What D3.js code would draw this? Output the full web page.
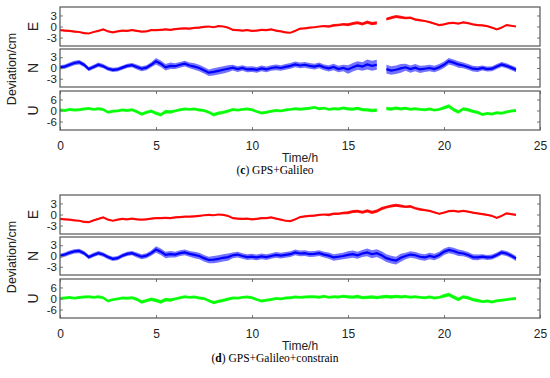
<!DOCTYPE html>
<html>
<head>
<meta charset="utf-8">
<script src="https://cdn.jsdelivr.net/npm/d3@7"></script>
<style>
  body { margin: 0; background: #fff; }
  svg { display: block; }
  .tick text { font-family: "Liberation Sans", Arial, sans-serif; fill: #222; }
</style>
</head>
<body>
<div id="chart"></div>
<script>
// sample every 0.25 h, 0 .. 23.75 h
const hours = d3.range(0, 24, 0.25);

const xTicks = [0, 5, 10, 15, 20, 25];
const enTicks = [-3, 0, 3];
const uTicks = [-6, 0, 6];

// (c) GPS+Galileo
const eC = [
  -1.0, -1.1, -1.2, -1.4, -1.5, -1.8, -1.9, -1.5, -1.2, -0.8, -1.3, -1.6,
  -1.3, -1.1, -1.2, -1.0, -1.2, -1.4, -1.3, -1.0, -1.0, -0.9, -0.8, -0.9,
  -0.7, -0.6, -0.5, -0.6, -0.4, -0.3, -0.1, 0.0, -0.2, 0.1, 0.0, -0.3,
  -0.9, -1.0, -1.1, -1.0, -1.2, -1.1, -0.9, -1.0, -0.8, -1.1, -1.3, -1.6,
  -1.7, -1.2, -0.6, -0.5, -0.3, -0.2, 0.0, 0.1, 0.0, 0.3, 0.4, 0.6,
  0.5, 0.8, 1.0, 0.7, 1.2, 0.8, 1.0, null, 2.0, 2.4, 2.7, 2.5,
  2.3, 2.4, 1.9, 1.7, 1.5, 1.2, 0.8, 0.4, 0.6, 0.9, 1.0, 0.8,
  1.1, 0.9, 0.6, 0.4, 0.3, 0.1, -0.3, -0.8, -0.3, 0.4, 0.2, 0.0
];
const nC = [
  0.2, 0.4, 0.9, 1.4, 1.6, 0.9, -0.3, 0.3, 0.9, 0.5, -0.2, -0.5,
  -0.4, 0.1, 0.6, 0.8, 0.3, -0.2, 0.1, 0.9, 1.9, 1.2, 0.2, 0.6,
  0.5, 0.9, 1.2, 0.7, 0.4, 0.0, -0.6, -1.3, -1.1, -0.8, -0.5, -0.2,
  0.1, -0.3, 0.0, -0.4, -0.3, -0.5, -0.1, -0.4, 0.0, 0.2, 0.0, 0.3,
  0.6, 1.0, 0.7, 0.9, 0.6, 0.4, 0.7, 0.2, -0.1, 0.3, -0.3, 0.0,
  -0.4, 0.2, 0.7, 0.4, 1.0, 0.6, 0.9, null, -0.3, -0.7, -0.5, -0.1,
  0.2, -0.3, 0.1, -0.4, -0.2, 0.0, -0.3, 0.2, 0.9, 1.9, 1.5, 1.0,
  0.7, 0.3, -0.2, -0.3, 0.0, -0.3, -0.2, 0.4, 1.0, 0.6, 0.1, -0.5
];
const uC = [
  0.3, 0.0, 0.5, 0.3, 0.4, 0.8, 1.1, 0.6, 1.0, 0.5, -1.0, -0.4,
  -0.2, 0.3, 0.0, 0.4, -0.6, -2.0, -1.0, -0.3, -1.5, -2.3, -0.6, -0.8,
  -0.2, 0.4, 0.8, 0.6, 0.8, 0.3, 0.0, -1.0, -2.3, -1.5, -1.0, -0.3,
  0.5, 0.2, 0.6, 0.8, 0.4, -0.6, -1.4, -1.0, -0.4, 0.0, -0.2, 0.3,
  0.6, 1.0, 0.7, 0.9, 1.2, 1.7, 0.9, 1.3, 0.6, 1.0, 0.8, 1.4,
  0.9, 0.7, 1.2, 0.5, 0.3, 0.0, 0.2, null, 1.1, 0.8, 1.3, 0.9,
  1.2, 0.7, 1.0, 0.6, 0.4, 0.8, 0.2, 0.6, 1.5, 2.4, 0.5, -0.8,
  0.9, 0.4, -0.5, -1.0, -2.2, -1.6, -1.9, -1.2, -1.5, -0.8, -0.3, 0.0
];

// (d) GPS+Galileo+constrain
const eD = [
  -1.2, -1.3, -1.4, -1.6, -1.7, -2.0, -2.1, -1.6, -1.2, -0.8, -1.4, -1.7,
  -1.4, -1.2, -1.3, -1.1, -1.3, -1.4, -1.3, -1.1, -1.0, -1.0, -0.9, -1.0,
  -0.8, -0.7, -0.6, -0.6, -0.5, -0.4, -0.2, -0.1, -0.2, 0.0, -0.1, -0.4,
  -1.0, -1.1, -1.2, -1.1, -1.3, -1.2, -1.0, -1.0, -0.8, -1.1, -1.4, -1.7,
  -1.8, -1.3, -0.7, -0.5, -0.4, -0.3, -0.1, 0.0, -0.1, 0.2, 0.2, 0.4,
  0.5, 0.8, 0.9, 0.6, 1.0, 0.6, 0.9, 1.6, 2.0, 2.3, 2.5, 2.3,
  2.1, 2.2, 1.7, 1.4, 1.2, 1.0, 0.6, 0.2, 0.5, 0.9, 1.0, 0.8,
  1.0, 0.8, 0.5, 0.3, 0.1, -0.1, -0.4, -0.9, -0.4, 0.3, 0.1, -0.1
];
const nD = [
  0.0, 0.4, 0.9, 1.3, 1.4, 0.8, -0.3, 0.3, 0.8, 0.4, -0.3, -0.8,
  -0.6, 0.1, 0.6, 0.8, 0.3, -0.2, 0.1, 0.8, 1.8, 1.2, 0.3, 0.5,
  0.4, 0.8, 1.0, 0.6, 0.3, 0.0, -0.6, -1.1, -1.0, -0.8, -0.5, -0.3,
  0.2, 0.4, 0.0, -0.3, -0.2, -0.4, -0.1, -0.3, 0.0, 0.3, 0.1, 0.3,
  0.5, 1.0, 0.7, 0.8, 0.5, 0.6, 0.8, 0.4, 0.1, -0.4, -0.2, 0.0,
  0.3, 0.5, 0.2, 0.7, 1.0, 0.5, 0.8, 0.2, -0.6, -1.0, -1.3, -0.5,
  0.0, 0.4, 0.2, -0.2, -0.4, 0.0, -0.3, 0.3, 1.2, 1.7, 1.4, 0.9,
  0.7, 0.3, -0.3, -0.4, -0.2, -0.4, -0.3, 0.3, 1.0, 0.7, 0.1, -0.7
];
const uD = [
  0.0, 0.3, 0.5, 0.2, 0.5, 0.8, 1.0, 0.6, 0.9, 0.4, -1.4, -0.6,
  -0.2, 0.3, 0.1, 0.4, -0.4, -1.9, -1.2, -0.4, -1.0, -1.8, -0.6, -0.8,
  -0.2, 0.4, 0.9, 0.6, 0.8, 0.3, 0.0, -1.2, -2.2, -1.6, -1.0, -0.3,
  0.3, 0.2, 0.6, 0.8, 0.4, -0.6, -1.4, -1.0, -0.5, 0.0, -0.2, 0.3,
  0.4, 0.8, 0.6, 0.8, 1.0, 0.9, 0.7, 1.2, 0.6, 1.0, 0.8, 1.2,
  0.9, 0.7, 1.1, 0.5, 0.6, 0.8, 0.5, 0.9, 1.1, 0.8, 1.2, 0.9,
  1.1, 0.7, 1.0, 0.6, 0.4, 0.8, 0.3, 0.6, 1.4, 2.1, 0.7, -0.5,
  0.9, 0.4, -0.6, -1.1, -1.7, -1.4, -1.9, -1.2, -1.0, -0.6, -0.2, 0.0
];

// half-width of the noise band per hour (cm)
const eSpread = [0.3, 0.3, 0.3, 0.3, 0.3, 0.3, 0.3, 0.3, 0.3, 0.3, 0.3, 0.3,
  0.3, 0.3, 0.35, 0.4, 0.45, 0.4, 0.35, 0.3, 0.3, 0.3, 0.3, 0.3];
const nSpreadC = [0.6, 0.6, 0.6, 0.6, 0.7, 0.9, 0.8, 0.9, 1.0, 0.8, 0.8, 0.8,
  0.8, 0.8, 0.9, 1.2, 1.4, 1.2, 1.0, 0.9, 0.9, 0.8, 0.7, 0.7];
const nSpreadD = [0.6, 0.6, 0.6, 0.6, 0.7, 0.9, 0.8, 0.9, 1.0, 0.8, 0.8, 0.8,
  0.8, 0.8, 0.9, 1.0, 1.1, 1.1, 0.9, 0.9, 0.9, 0.8, 0.7, 0.7];
const uSpread = [0.8, 0.8, 0.8, 0.8, 0.9, 1.0, 0.8, 0.8, 0.9, 0.8, 0.8, 0.8,
  0.8, 0.8, 0.8, 0.9, 0.9, 0.9, 0.8, 0.8, 1.0, 0.9, 0.8, 0.8];

const width = 550, height = 378;

const svg = d3.select("#chart").append("svg")
  .attr("width", width)
  .attr("height", height);

const x = d3.scaleLinear().domain([0, 25]).range([60, 540]);

const groups = [
  { top: 7, tag: "c", caption: " GPS+Galileo",
    series: [
      { name: "E", values: eC, spread: eSpread, color: "#ff0000", band: 0.9, dom: [-5.3, 5.3], ticks: enTicks },
      { name: "N", values: nC, spread: nSpreadC, color: "#0000ff", band: 0.55, dom: [-5.3, 5.3], ticks: enTicks },
      { name: "U", values: uC, spread: uSpread, color: "#00ff00", band: 0.9, dom: [-10.6, 10.6], ticks: uTicks }
    ] },
  { top: 195, tag: "d", caption: " GPS+Galileo+constrain",
    series: [
      { name: "E", values: eD, spread: eSpread, color: "#ff0000", band: 0.9, dom: [-5.3, 5.3], ticks: enTicks },
      { name: "N", values: nD, spread: nSpreadD, color: "#0000ff", band: 0.55, dom: [-5.3, 5.3], ticks: enTicks },
      { name: "U", values: uD, spread: uSpread, color: "#00ff00", band: 0.9, dom: [-10.6, 10.6], ticks: uTicks }
    ] }
];

// panel offsets inside a group
const panelPos = [[0, 39], [42, 80], [84, 123]];

groups.forEach((grp, gi) => {
  const g = svg.append("g");

  grp.series.forEach((s, i) => {
    const y0 = grp.top + panelPos[i][0], y1 = grp.top + panelPos[i][1];
    const y = d3.scaleLinear().domain(s.dom).range([y1, y0]);
    const rows = hours.map((t, k) => ({ t: t, v: s.values[k], s: s.spread[Math.floor(t)] }));

    const clipId = `clip-${gi}-${i}`;
    g.append("clipPath").attr("id", clipId)
      .append("rect").attr("x", x(0)).attr("y", y0).attr("width", x(25) - x(0)).attr("height", y1 - y0);

    const plot = g.append("g").attr("clip-path", `url(#${clipId})`);

    plot.append("path")
      .datum(rows)
      .attr("fill", s.color)
      .attr("fill-opacity", s.band)
      .attr("d", d3.area()
        .defined(d => d.v != null)
        .x(d => x(d.t))
        .y0(d => y(d.v - d.s))
        .y1(d => y(d.v + d.s)));

    plot.append("path")
      .datum(rows)
      .attr("fill", "none")
      .attr("stroke", s.color)
      .attr("stroke-width", s.name === "N" ? 2.2 : 1.2)
      .attr("d", d3.line()
        .defined(d => d.v != null)
        .x(d => x(d.t))
        .y(d => y(d.v)));

    // y axes, ticks pointing inward
    g.append("g")
      .attr("transform", `translate(${x(0)},0)`)
      .call(d3.axisLeft(y).tickValues(s.ticks).tickSize(-3).tickPadding(3)
        .tickFormat(d => String(d)))
      .call(a => a.select(".domain").remove())
      .call(a => a.selectAll("line").attr("stroke", "#777"))
      .call(a => a.selectAll("text").attr("font-size", 11.5));

    g.append("g")
      .attr("transform", `translate(${x(25)},0)`)
      .call(d3.axisRight(y).tickValues(s.ticks).tickSize(-3).tickFormat(""))
      .call(a => a.select(".domain").remove())
      .call(a => a.selectAll("line").attr("stroke", "#777"));

    if (s.name === "U") {
      g.append("g")
        .attr("transform", `translate(0,${y1})`)
        .call(d3.axisBottom(x).tickValues(xTicks).tickSize(-3).tickPadding(11))
        .call(a => a.select(".domain").remove())
        .call(a => a.selectAll("line").attr("stroke", "#777"))
        .call(a => a.selectAll("text").attr("font-size", 12));
      g.append("g")
        .attr("transform", `translate(0,${y0})`)
        .call(d3.axisTop(x).tickValues(xTicks).tickSize(-3).tickFormat(""))
        .call(a => a.select(".domain").remove())
        .call(a => a.selectAll("line").attr("stroke", "#777"));
    }

    // frame
    g.append("rect")
      .attr("x", x(0)).attr("y", y0)
      .attr("width", x(25) - x(0)).attr("height", y1 - y0)
      .attr("fill", "none")
      .attr("stroke", "#555")
      .attr("stroke-width", 1.2);

    g.append("text")
      .attr("transform", `translate(38,${(y0 + y1) / 2}) rotate(-90)`)
      .attr("text-anchor", "middle")
      .attr("font-family", "Liberation Sans, Arial, sans-serif")
      .attr("font-size", 14)
      .attr("fill", "#222")
      .text(s.name);
  });

  g.append("text")
    .attr("transform", `translate(16,${grp.top + 62}) rotate(-90)`)
    .attr("text-anchor", "middle")
    .attr("font-family", "Liberation Sans, Arial, sans-serif")
    .attr("font-size", 12.5)
    .attr("fill", "#222")
    .text("Deviation/cm");

  g.append("text")
    .attr("x", x(12.5))
    .attr("y", grp.top + 155)
    .attr("text-anchor", "middle")
    .attr("font-family", "Liberation Sans, Arial, sans-serif")
    .attr("font-size", 12)
    .attr("fill", "#222")
    .text("Time/h");

  const cap = g.append("text")
    .attr("x", 275)
    .attr("y", grp.top + 167)
    .attr("text-anchor", "middle")
    .attr("font-family", "Palatino Linotype, Book Antiqua, Liberation Serif, serif")
    .attr("font-size", 11.5)
    .attr("fill", "#000");
  cap.append("tspan").text("(");
  cap.append("tspan").attr("font-weight", "bold").text(grp.tag);
  cap.append("tspan").text(")" + grp.caption);
});
</script>
</body>
</html>
